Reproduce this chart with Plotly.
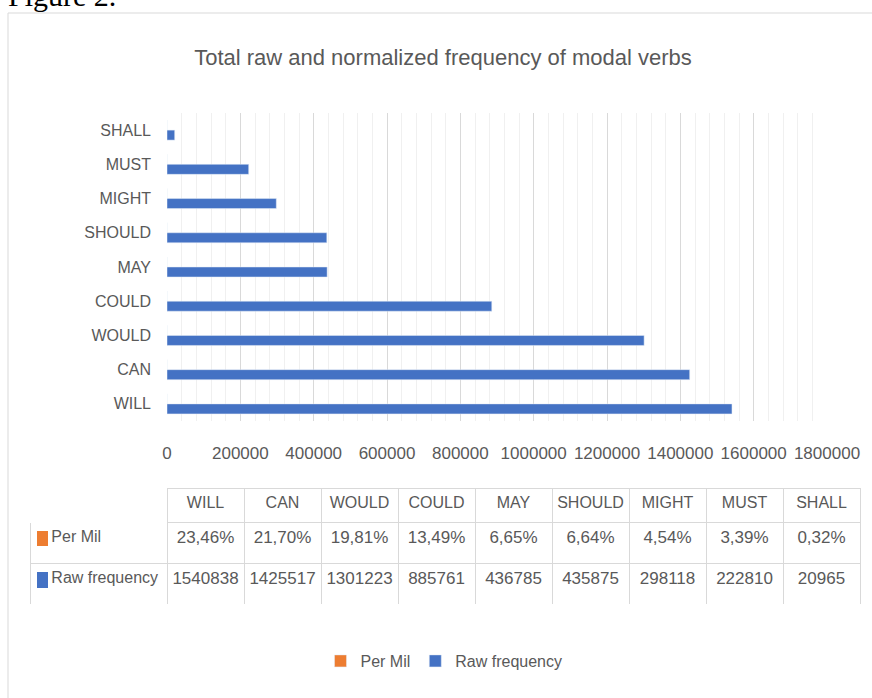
import plotly.graph_objects as go

verbs = ["WILL", "CAN", "WOULD", "COULD", "MAY", "SHOULD", "MIGHT", "MUST", "SHALL"]
raw_freq = [1540838, 1425517, 1301223, 885761, 436785, 435875, 298118, 222810, 20965]
per_mil = [23.46, 21.70, 19.81, 13.49, 6.65, 6.64, 4.54, 3.39, 0.32]
x_ticks = [0, 200000, 400000, 600000, 800000, 1000000, 1200000, 1400000, 1600000, 1800000]
series_names = ["Per Mil", "Raw frequency"]

BLUE = "#4472C4"
ORANGE = "#ED7D31"
GREY = "#595959"
FONT = "Liberation Sans"

W, H = 872, 698
ML, MR, MT, MB = 30, 12, 20, 20
PW, PH = W - ML - MR, H - MT - MB


def px_x(p):
    return (p - ML) / PW


def px_y(p):
    return (H - MB - p) / PH


fig = go.Figure()
fig.add_trace(go.Bar(
    y=verbs, x=raw_freq, orientation="h", name=series_names[1],
    marker=dict(color=BLUE), legendrank=2))
fig.add_trace(go.Bar(
    y=verbs, x=[v / 100 for v in per_mil], orientation="h", name=series_names[0],
    marker=dict(color=ORANGE), legendrank=1))

pm_text = [f"{v:.2f}".replace(".", ",") + "%" for v in per_mil]
raw_text = [str(v) for v in raw_freq]

header_vals = [""] + verbs
NB = "\u00a0"
col_cells = [[NB * 3 + n.replace(" ", NB) for n in series_names]]
for i in range(len(verbs)):
    col_cells.append([pm_text[i], raw_text[i]])

fig.add_trace(go.Table(
    domain=dict(x=[0, 1], y=[px_y(604), px_y(488)]),
    columnwidth=[137] + [77] * len(verbs),
    header=dict(values=header_vals, height=34, align="center",
                fill=dict(color="white"),
                line=dict(color=["white"] + ["#d9d9d9"] * len(verbs), width=1),
                font=dict(family=FONT, size=16, color=GREY)),
    cells=dict(values=col_cells, height=41,
               align=["left"] + ["center"] * len(verbs),
               fill=dict(color="white"),
               line=dict(color="#d9d9d9", width=1),
               font=dict(family=FONT, size=[16] + [17] * len(verbs), color=GREY)),
))

fig.update_layout(
    width=W, height=H, autosize=False,
    margin=dict(l=ML, r=MR, t=MT, b=MB, autoexpand=False),
    paper_bgcolor="white", plot_bgcolor="white",
    barmode="group", bargap=0.416, bargroupgap=0,
    font=dict(family=FONT, color=GREY),
    title=dict(text="Total raw and normalized frequency of modal verbs",
               x=443 / W, xanchor="center", y=1 - 57 / H, yanchor="middle",
               font=dict(family=FONT, size=22, color=GREY)),
    xaxis=dict(domain=[px_x(167), px_x(827)], range=[0, 1800000],
               tickvals=x_ticks, ticktext=[str(v) for v in x_ticks],
               showgrid=True, gridcolor="#d9d9d9", gridwidth=1,
               minor=dict(dtick=40000, tick0=0, showgrid=True, gridcolor="#f0f0f0"),
               zeroline=False, showline=False, ticks="", automargin=False,
               ticklabelstandoff=20, tickangle=0,
               tickfont=dict(family=FONT, size=17, color=GREY), fixedrange=True),
    yaxis=dict(domain=[px_y(421), px_y(113)], type="category",
               categoryorder="array", categoryarray=verbs,
               showgrid=False, zeroline=False, showline=False, ticks="",
               ticklabelstandoff=15, automargin=False,
               tickfont=dict(family=FONT, size=16, color=GREY), fixedrange=True),
    legend=dict(orientation="h", x=px_x(444), xanchor="center",
                y=px_y(661), yanchor="middle",
                font=dict(family=FONT, size=16, color=GREY),
                itemwidth=30, bgcolor="rgba(0,0,0,0)"),
    showlegend=True,
    shapes=[
        dict(type="rect", xref="paper", yref="paper",
             x0=px_x(8), x1=px_x(880), y0=px_y(710), y1=px_y(13),
             line=dict(color="#d9d9d9", width=1), fillcolor="rgba(0,0,0,0)",
             layer="below"),
        dict(type="rect", xref="paper", yref="paper",
             x0=px_x(37), x1=px_x(48), y0=px_y(546), y1=px_y(531),
             line=dict(width=0), fillcolor=ORANGE),
        dict(type="rect", xref="paper", yref="paper",
             x0=px_x(37), x1=px_x(48), y0=px_y(588), y1=px_y(572),
             line=dict(width=0), fillcolor=BLUE),
    ],
    annotations=[dict(text="Figure 2.", xref="paper", yref="paper",
                      x=px_x(6), xanchor="left", y=px_y(14), yanchor="bottom",
                      showarrow=False,
                      font=dict(family="Liberation Serif", size=30, color="black"))],
)

post = "document.body.style.margin='0';document.body.style.overflow='hidden';"
fig.write_html("out.html", config={"responsive": False, "displayModeBar": False},
               post_script=post)
